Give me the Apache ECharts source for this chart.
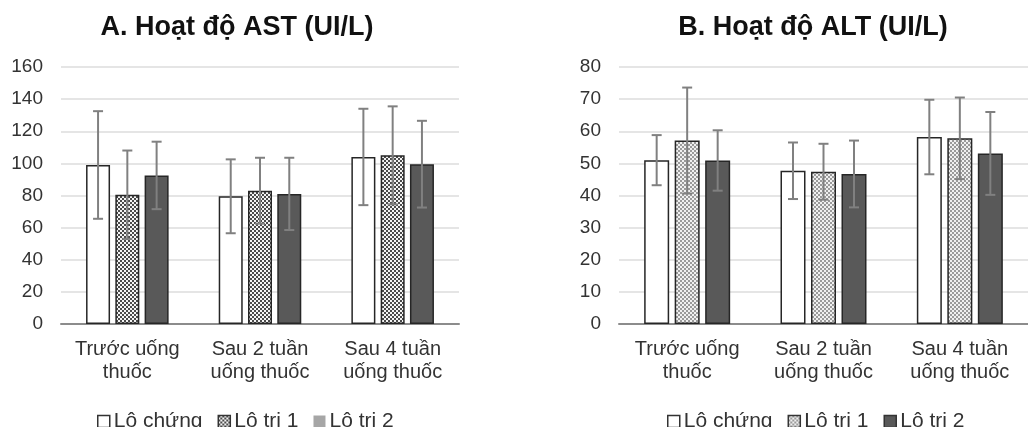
<!DOCTYPE html>
<html>
<head>
<meta charset="utf-8">
<script src="https://cdn.jsdelivr.net/npm/echarts@6/dist/echarts.min.js"></script>
<style>
  html, body { margin: 0; padding: 0; background: #fff; }
  #chart { width: 1028px; height: 427px; }
</style>
</head>
<body>
<div id="chart"></div>
<script>
// du lieu doc tu hinh
var categories = ['Trước uống\nthuốc', 'Sau 2 tuần\nuống thuốc', 'Sau 4 tuần\nuống thuốc'];
var seriesNames = ['Lô chứng', 'Lô trị 1', 'Lô trị 2'];

var astControl = [99, 79.5, 104];
var astTri1 = [80.5, 83, 105];
var astTri2 = [92.5, 81, 99.5];
var astControlSd = [33.5, 23, 30];
var astTri1Sd = [27.5, 20.5, 30.5];
var astTri2Sd = [21, 22.5, 27];

var altControl = [51, 47.7, 58.2];
var altTri1 = [57.1, 47.4, 57.8];
var altTri2 = [50.9, 46.7, 53.1];
var altControlSd = [7.8, 8.8, 11.6];
var altTri1Sd = [16.5, 8.7, 12.7];
var altTri2Sd = [9.4, 10.4, 12.9];

var astTicks = { min: 0, max: 160, interval: 20 };
var altTicks = { min: 0, max: 80, interval: 10 };

// hoa van o ca ro
function checker(c1, c2) {
  var cv = document.createElement('canvas');
  cv.width = 4; cv.height = 4;
  var ctx = cv.getContext('2d');
  ctx.fillStyle = c2; ctx.fillRect(0, 0, 4, 4);
  ctx.fillStyle = c1;
  ctx.fillRect(0, 0, 2, 2);
  ctx.fillRect(2, 2, 2, 2);
  return { image: cv, repeat: 'repeat' };
}
var patDark = checker('#4a4a4a', '#f4f4f4');
var patLight = checker('#9a9a9a', '#f0f0f0');

var chart = echarts.init(document.getElementById('chart'));

var textColor = '#333';
var border = '#262626';
var font = 'Liberation Sans';

function barSeries(name, data, idx, fill, bw) {
  return {
    name: name, type: 'bar', data: data,
    xAxisIndex: idx, yAxisIndex: idx,
    barWidth: bw, barGap: '22%',
    itemStyle: { color: fill, borderColor: border, borderWidth: 1.5 },
    z: 2
  };
}

function errSeries(means, sds, idx, pos, bw) {
  var d = means.map(function (m, i) { return [i, m, sds[i]]; });
  return {
    type: 'custom', xAxisIndex: idx, yAxisIndex: idx,
    data: d, encode: { x: 0, y: 1 }, z: 5, silent: true,
    renderItem: function (params, api) {
      var cat = api.value(0), m = api.value(1), s = api.value(2);
      var hi = api.coord([cat, m + s]);
      var lo = api.coord([cat, m - s]);
      var x = hi[0] + (pos - 1) * bw * 1.22;
      var cap = 5;
      var st = { stroke: '#808080', lineWidth: 2 };
      return {
        type: 'group',
        children: [
          { type: 'line', shape: { x1: x, y1: hi[1], x2: x, y2: lo[1] }, style: st },
          { type: 'line', shape: { x1: x - cap, y1: hi[1], x2: x + cap, y2: hi[1] }, style: st },
          { type: 'line', shape: { x1: x - cap, y1: lo[1], x2: x + cap, y2: lo[1] }, style: st }
        ]
      };
    }
  };
}

function xAx(idx) {
  return {
    type: 'category', gridIndex: idx, data: categories,
    axisLine: { lineStyle: { color: '#8c8c8c', width: 2 } },
    axisTick: { show: false },
    axisLabel: { interval: 0, color: textColor, fontSize: 20, lineHeight: 23, margin: 14, fontFamily: font }
  };
}
function yAx(idx, t) {
  return {
    type: 'value', gridIndex: idx, min: t.min, max: t.max, interval: t.interval,
    axisLine: { show: false }, axisTick: { show: false },
    splitLine: { lineStyle: { color: '#dcdcdc', width: 1.5 } },
    axisLabel: { color: textColor, fontSize: 19, margin: 18, fontFamily: font }
  };
}

var legendText = { color: textColor, fontSize: 21, fontFamily: font, padding: [0, 0, 0, -1] };

chart.setOption({
  animation: false,
  title: [
    { text: 'A. Hoạt độ AST (UI/L)', left: 232, top: 9, textAlign: 'center',
      textStyle: { fontSize: 27, fontWeight: 'bold', color: '#111', fontFamily: font } },
    { text: 'B. Hoạt độ ALT (UI/L)', left: 808, top: 9, textAlign: 'center',
      textStyle: { fontSize: 27, fontWeight: 'bold', color: '#111', fontFamily: font } }
  ],
  legend: [
    { left: 92, top: 406, itemWidth: 12, itemHeight: 12, itemGap: 15, icon: 'rect', textStyle: legendText,
      data: [
        { name: seriesNames[0], itemStyle: { color: '#fff', borderColor: '#333', borderWidth: 1.5 } },
        { name: seriesNames[1], itemStyle: { color: patDark, borderColor: '#333', borderWidth: 1.5 } },
        { name: seriesNames[2], itemStyle: { color: '#a6a6a6', borderWidth: 0 } }
      ] },
    { left: 662, top: 406, itemWidth: 12, itemHeight: 12, itemGap: 15, icon: 'rect', textStyle: legendText,
      data: [
        { name: seriesNames[0], itemStyle: { color: '#fff', borderColor: '#333', borderWidth: 1.5 } },
        { name: seriesNames[1], itemStyle: { color: patLight, borderColor: '#333', borderWidth: 1.5 } },
        { name: seriesNames[2], itemStyle: { color: '#595959', borderColor: '#333', borderWidth: 1.5 } }
      ] }
  ],
  grid: [
    { left: 61, right: 569, top: 67, bottom: 103 },
    { left: 619, right: -8, top: 67, bottom: 103 }
  ],
  xAxis: [xAx(0), xAx(1)],
  yAxis: [yAx(0, astTicks), yAx(1, altTicks)],
  series: [
    barSeries(seriesNames[0], astControl, 0, '#ffffff', 24),
    barSeries(seriesNames[1], astTri1, 0, patDark, 24),
    barSeries(seriesNames[2], astTri2, 0, '#595959', 24),
    errSeries(astControl, astControlSd, 0, 0, 24),
    errSeries(astTri1, astTri1Sd, 0, 1, 24),
    errSeries(astTri2, astTri2Sd, 0, 2, 24),
    barSeries(seriesNames[0], altControl, 1, '#ffffff', 25),
    barSeries(seriesNames[1], altTri1, 1, patLight, 25),
    barSeries(seriesNames[2], altTri2, 1, '#595959', 25),
    errSeries(altControl, altControlSd, 1, 0, 25),
    errSeries(altTri1, altTri1Sd, 1, 1, 25),
    errSeries(altTri2, altTri2Sd, 1, 2, 25)
  ]
});
</script>
</body>
</html>
